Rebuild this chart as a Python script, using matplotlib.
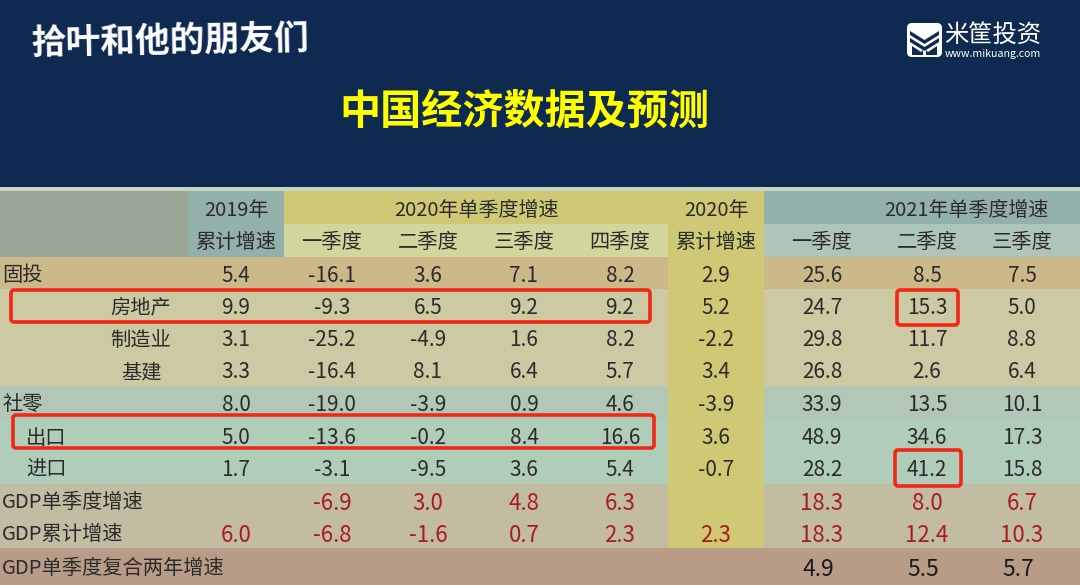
import matplotlib
matplotlib.use("Agg")
import matplotlib.pyplot as plt
from matplotlib.patches import Rectangle, FancyBboxPatch, Polygon

plt.rcParams['font.family'] = ['Noto Sans CJK SC', 'DejaVu Sans']

brand_title = "拾叶和他的朋友们"
main_title = "中国经济数据及预测"
logo_name = "米筐投资"
logo_url = "www.mikuang.com"

group_headers = ["2019年", "2020年单季度增速", "2020年", "2021年单季度增速"]
sub_headers = ["累计增速", "一季度", "二季度", "三季度", "四季度", "累计增速", "一季度", "二季度", "三季度"]

row_labels = ["固投", "房地产", "制造业", "基建", "社零", "出口", "进口",
              "GDP单季度增速", "GDP累计增速", "GDP单季度复合两年增速"]

guto = ["5.4", "-16.1", "3.6", "7.1", "8.2", "2.9", "25.6", "8.5", "7.5"]
fangdichan = ["9.9", "-9.3", "6.5", "9.2", "9.2", "5.2", "24.7", "15.3", "5.0"]
zhizaoye = ["3.1", "-25.2", "-4.9", "1.6", "8.2", "-2.2", "29.8", "11.7", "8.8"]
jijian = ["3.3", "-16.4", "8.1", "6.4", "5.7", "3.4", "26.8", "2.6", "6.4"]
sheling = ["8.0", "-19.0", "-3.9", "0.9", "4.6", "-3.9", "33.9", "13.5", "10.1"]
chukou = ["5.0", "-13.6", "-0.2", "8.4", "16.6", "3.6", "48.9", "34.6", "17.3"]
jinkou = ["1.7", "-3.1", "-9.5", "3.6", "5.4", "-0.7", "28.2", "41.2", "15.8"]
gdp_quarter = ["", "-6.9", "3.0", "4.8", "6.3", "", "18.3", "8.0", "6.7"]
gdp_cum = ["6.0", "-6.8", "-1.6", "0.7", "2.3", "2.3", "18.3", "12.4", "10.3"]
gdp_two_year = ["", "", "", "", "", "", "4.9", "5.5", "5.7"]
table_rows = [guto, fangdichan, zhizaoye, jijian, sheling, chukou, jinkou,
              gdp_quarter, gdp_cum, gdp_two_year]

# layout (pixels of the slide)
col_x = [236, 332, 428, 524, 620, 716, 822, 927, 1022]
row_edges = [257, 289, 322, 354, 386, 419, 452, 484, 517, 548, 585]
label_pos = [(2, 'left'), (141, 'center'), (141, 'center'), (141, 'center'), (2, 'left'),
             (26, 'left'), (26, 'left'), (2, 'left'), (2, 'left'), (2, 'left')]
row_fill = ['#cbb98a', '#cdc9a3', '#cdc9a3', '#cdc9a3', '#b2c7b6', '#b0cdb9', '#b0cdb9',
            '#c2bca2', '#c2bca2', '#b89c88']

NAVY = '#0f2a50'
INK = '#2b2b2b'
RED = '#a81c1f'
BOX = '#f02818'

fig = plt.figure(figsize=(10.8, 5.85), dpi=100, facecolor=NAVY)
ax = fig.add_axes([0, 0, 1, 1])
ax.set_xlim(0, 1080)
ax.set_ylim(585, 0)
ax.axis('off')


def rect(x0, y0, x1, y1, color, z=1):
    ax.add_patch(Rectangle((x0, y0), x1 - x0, y1 - y0, facecolor=color, edgecolor='none', zorder=z))


# banner
rect(0, 0, 1080, 187, NAVY)
rect(0, 187, 1080, 191, '#c6d6bf')
ax.text(170, 42, brand_title, color='white', fontsize=25, fontweight='black', ha='center', va='center',
        rotation=1)
ax.text(524, 112, main_title, color='#ffff00', fontsize=29.6, fontweight='black', ha='center', va='center')

# logo
ax.add_patch(FancyBboxPatch((910, 26), 29, 28, boxstyle="round,pad=3,rounding_size=5",
                            facecolor='white', edgecolor='none', zorder=3))
ax.add_patch(Polygon([(910, 31), (924.5, 40), (939, 31), (939, 35), (924.5, 44), (910, 35)],
                     closed=True, facecolor=NAVY, edgecolor='none', zorder=4))
ax.add_patch(Polygon([(910, 38), (924.5, 47), (939, 38), (939, 42), (924.5, 51), (910, 42)],
                     closed=True, facecolor=NAVY, edgecolor='none', zorder=4))
ax.add_patch(Polygon([(912, 46), (921, 52), (923, 50), (923, 55), (912, 55)],
                     closed=True, facecolor=NAVY, edgecolor='none', zorder=4))
ax.add_patch(Polygon([(937, 46), (928, 52), (926, 50), (926, 55), (937, 55)],
                     closed=True, facecolor=NAVY, edgecolor='none', zorder=4))
ax.text(993, 36, logo_name, color='white', fontsize=17.5, fontweight='medium', ha='center', va='center')
ax.text(993, 54, logo_url, color='white', fontsize=7.6, fontweight='medium', ha='center', va='center')

# header backgrounds
rect(0, 191, 188, 257, '#9aa595')
rect(188, 191, 284, 257, '#93b0ab')
rect(284, 191, 668, 224, '#cfc874')
rect(284, 224, 668, 257, '#d2d69c')
rect(668, 191, 764, 548, '#cfc874', z=2)
rect(764, 191, 1080, 224, '#93b0ab')
rect(764, 224, 1080, 257, '#aec6b9')

# body backgrounds
for i, color in enumerate(row_fill):
    rect(0, row_edges[i], 1080, row_edges[i + 1], color, z=1 if i < 9 else 3)

# headers
head_centres = [236, 476, 716, 966]
for x, s in zip(head_centres, group_headers):
    ax.text(x, 210, s, color=INK, fontsize=14.4, ha='center', va='center', zorder=5)
for x, s in zip(col_x, sub_headers):
    ax.text(x, 243, s, color=INK, fontsize=14.6, ha='center', va='center', zorder=5)

# body
for i, (label, vals) in enumerate(zip(row_labels, table_rows)):
    yc = (row_edges[i] + row_edges[i + 1]) / 2
    x, ha = label_pos[i]
    ax.text(x, yc + 2.5, label, color=INK, fontsize=14.6, ha=ha, va='center', zorder=5)
    for j, (xc, v) in enumerate(zip(col_x, vals)):
        if not v:
            continue
        if i in (7, 8):
            ax.text(xc, yc + 2.5, v, color=RED, fontsize=16, ha='center', va='center', zorder=5)
        elif i == 9:
            ax.text(xc - 4, yc + 3, v, color='#1a1a1a', fontsize=16.5, fontweight='medium',
                    ha='center', va='center', zorder=5)
        else:
            ax.text(xc, yc + 2.5, v, color=INK, fontsize=15, ha='center', va='center', zorder=5)


# highlight boxes
def box(x0, y0, x1, y1):
    ax.add_patch(FancyBboxPatch((x0, y0), x1 - x0, y1 - y0, boxstyle="round,pad=0,rounding_size=3",
                                facecolor='none', edgecolor=BOX, linewidth=2.6, zorder=6))


box(11, 290, 650, 322)
box(13, 415, 654, 448)
box(897, 290, 958, 325)
box(895, 450, 961, 486)

fig.savefig('out.png', dpi=100, facecolor=NAVY)
